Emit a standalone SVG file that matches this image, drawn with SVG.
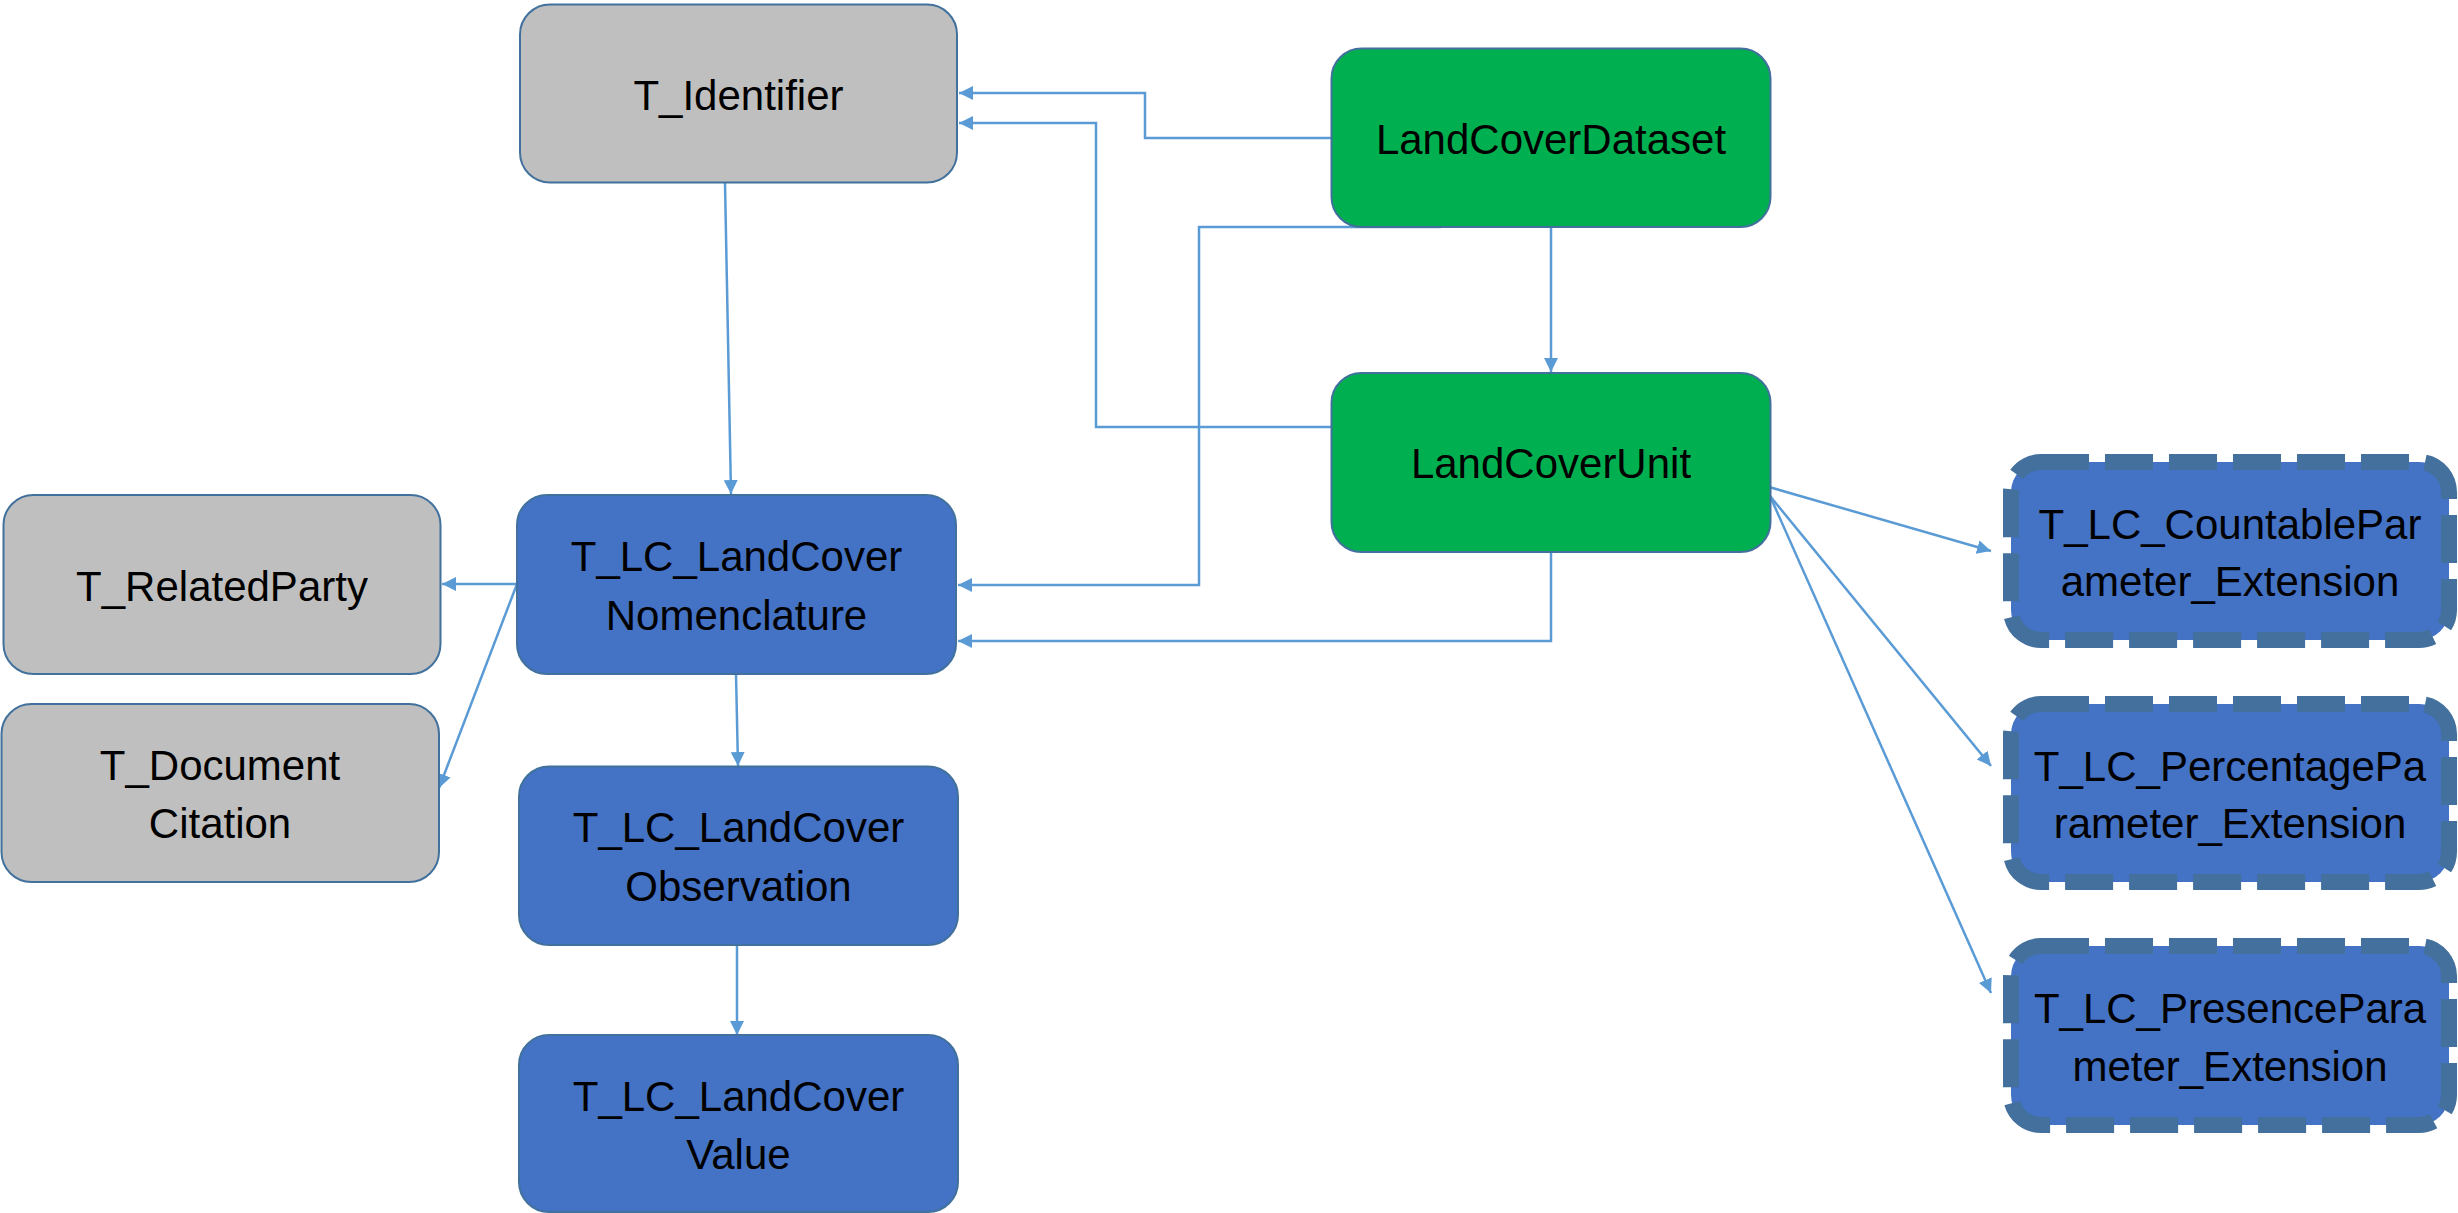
<svg xmlns="http://www.w3.org/2000/svg" width="2458" height="1213" viewBox="0 0 2458 1213">
<defs>
<style>
.gray{fill:#BFBFBF;stroke:#41719C;stroke-width:2}
.blue{fill:#4472C4;stroke:#41719C;stroke-width:2}
.green{fill:#00B050;stroke:#41719C;stroke-width:2}
.dash{fill:#4472C4;stroke:#43709C;stroke-width:16;stroke-dasharray:48 16}
.lbl{font-family:"Liberation Sans",Arial,sans-serif;font-size:42px;fill:#000;text-anchor:middle}
.con{fill:none;stroke:#5B9BD5;stroke-width:2.5;marker-end:url(#arr)}
</style>
<marker id="arr" markerUnits="userSpaceOnUse" markerWidth="16" markerHeight="16" refX="14" refY="7" orient="auto">
<path d="M0,0 L14,7 L0,14 z" fill="#5B9BD5"/>
</marker>
</defs>
<rect width="2458" height="1213" fill="#fff"/>
<g id="connectors">
<path class="con" d="M1331,138 H1145 V93 H959"/>
<path class="con" d="M1331,427 H1096 V123 H959"/>
<path class="con" d="M1441,227 H1199 V585 H958"/>
<path class="con" d="M1551,227 V372"/>
<path class="con" d="M1551,552 V641 H958"/>
<path class="con" d="M725,183 L731,494"/>
<path class="con" d="M517,584 H442"/>
<path class="con" d="M517,584 L439,788"/>
<path class="con" d="M736,674 L738,766"/>
<path class="con" d="M737,945 V1035"/>
<path class="con" d="M1769,487 L1991,551"/>
<path class="con" d="M1770,496 L1991,766"/>
<path class="con" d="M1770,496 L1991,993"/>
</g>
<g id="T_Identifier">
<rect class="gray" x="520" y="4.5" width="437" height="178" rx="30"/>
<text class="lbl" x="738.5" y="109.5">T_Identifier</text>
</g>
<g id="LandCoverDataset">
<rect class="green" x="1331.5" y="48.5" width="439" height="178.5" rx="30"/>
<text class="lbl" x="1551" y="153.5">LandCoverDataset</text>
</g>
<g id="LandCoverUnit">
<rect class="green" x="1331.5" y="373" width="439" height="179" rx="30"/>
<text class="lbl" x="1551" y="478">LandCoverUnit</text>
</g>
<g id="T_LC_LandCoverNomenclature">
<rect class="blue" x="517" y="495" width="439" height="179" rx="30"/>
<text class="lbl" x="736.5" y="571">T_LC_LandCover</text>
<text class="lbl" x="736.5" y="630">Nomenclature</text>
</g>
<g id="T_RelatedParty">
<rect class="gray" x="3.5" y="495" width="437" height="179" rx="30"/>
<text class="lbl" x="222" y="601">T_RelatedParty</text>
</g>
<g id="T_DocumentCitation">
<rect class="gray" x="1.5" y="704" width="437.5" height="178" rx="30"/>
<text class="lbl" x="220" y="780">T_Document</text>
<text class="lbl" x="220" y="838">Citation</text>
</g>
<g id="T_LC_LandCoverObservation">
<rect class="blue" x="519" y="766.5" width="439" height="178.5" rx="30"/>
<text class="lbl" x="738.5" y="842">T_LC_LandCover</text>
<text class="lbl" x="738.5" y="901">Observation</text>
</g>
<g id="T_LC_LandCoverValue">
<rect class="blue" x="519" y="1035" width="439" height="177" rx="30"/>
<text class="lbl" x="738.5" y="1111">T_LC_LandCover</text>
<text class="lbl" x="738.5" y="1169">Value</text>
</g>
<g id="T_LC_CountableParameter_Extension">
<rect class="dash" x="2011" y="462" width="438" height="178" rx="30"/>
<text class="lbl" x="2230" y="539">T_LC_CountablePar</text>
<text class="lbl" x="2230" y="596">ameter_Extension</text>
</g>
<g id="T_LC_PercentageParameter_Extension">
<rect class="dash" x="2011" y="704" width="438" height="178" rx="30"/>
<text class="lbl" x="2230" y="781">T_LC_PercentagePa</text>
<text class="lbl" x="2230" y="838">rameter_Extension</text>
</g>
<g id="T_LC_PresenceParameter_Extension">
<rect class="dash" x="2011" y="946" width="438" height="179" rx="30"/>
<text class="lbl" x="2230" y="1023">T_LC_PresencePara</text>
<text class="lbl" x="2230" y="1081">meter_Extension</text>
</g>
</svg>
